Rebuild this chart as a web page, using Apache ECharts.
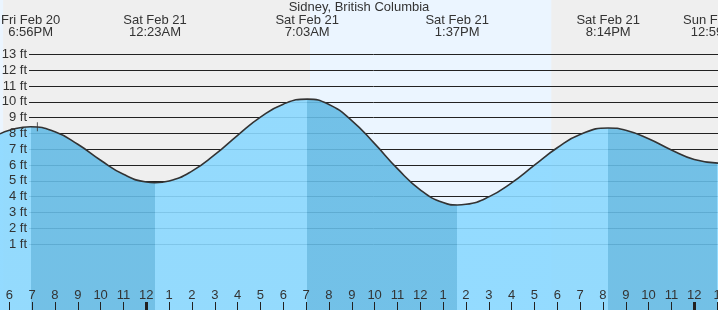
<!DOCTYPE html>
<html><head><meta charset="utf-8">
<script src="https://cdn.jsdelivr.net/npm/echarts@6/dist/echarts.min.js"></script>
<style>html,body{margin:0;padding:0;background:#efefef}#c{width:718px;height:310px}</style>
</head><body><div id="c"></div>
<script>
// ---- data (hours counted from 6PM Fri Feb 20) ----
const chartTitle = 'Sidney, British Columbia';
const hourLabels = ['6','7','8','9','10','11','12','1','2','3','4','5','6','7','8','9','10','11','12','1','2','3','4','5','6','7','8','9','10','11','12','1'];
const hourTicks = [0,1,2,3,4,5,6,7,8,9,10,11,12,13,14,15,16,17,18,19,20,21,22,23,24,25,26,27,28,29,30,31];
const midnightTicks = [6, 30];
const eventDates = ['Fri Feb 20','Sat Feb 21','Sat Feb 21','Sat Feb 21','Sat Feb 21','Sun Feb 22'];
const eventTimes = ['6:56PM','12:23AM','7:03AM','1:37PM','8:14PM','12:59AM'];
const eventHours = [0.933, 6.383, 13.05, 19.617, 26.233, 30.983];
const eventFeet = [8.42, 4.88, 10.17, 3.47, 8.34, 6.12];
const curveHours = [-0.41, 0, 0.933, 2, 3, 4, 5, 6, 6.383, 7, 8, 9, 10, 11, 12, 13.05, 14, 15, 16, 17, 18, 19, 19.617, 20, 21, 22, 23, 24, 25, 26.233, 27, 28, 29, 30, 31.05];
const curveFeet  = [7.97, 8.2, 8.42, 8.10, 7.31, 6.30, 5.41, 4.92, 4.88, 4.99, 5.61, 6.65, 7.88, 9.03, 9.85, 10.17, 9.83, 8.81, 7.35, 5.77, 4.43, 3.62, 3.47, 3.51, 3.98, 4.87, 5.99, 7.09, 7.93, 8.34, 8.20, 7.66, 6.95, 6.35, 6.12];
const feetTicks = [1,2,3,4,5,6,7,8,9,10,11,12,13];
const daylightStart = [-0.41, 13.17];
const daylightEnd = [-0.27, 23.74];
const nowMark = [1.23, 8.42];

// ---- styling / ranges ----
const X0 = -0.407, X1 = 31.04, Y0 = -3.177, Y1 = 16.44;
const FONT = '"Liberation Sans", Arial, sans-serif';
const LIGHT = 'rgb(138,216,255)', DARK = 'rgb(101,187,229)';

const pieces = [];
for (let i = 0; i <= eventHours.length; i++) {
  const p = {color: i % 2 === 0 ? LIGHT : DARK};
  if (i > 0) p.gte = eventHours[i - 1];
  if (i < eventHours.length) p.lt = eventHours[i];
  pieces.push(p);
}
function nearestEvent(v) {
  let b = 0;
  for (let i = 1; i < eventHours.length; i++) if (Math.abs(eventHours[i] - v) < Math.abs(eventHours[b] - v)) b = i;
  return b;
}
const G = {right: 0, top: 0, bottom: 0, containLabel: false, outerBoundsMode: 'none'};

const chart = echarts.init(document.getElementById('c'), null, {renderer: 'canvas'});
chart.setOption({
  backgroundColor: '#efefef',
  animation: false,
  title: {text: chartTitle, left: 'center', top: 0, padding: [1, 0, 0, 0],
    textStyle: {fontFamily: FONT, fontSize: 13, fontWeight: 'normal', color: '#333'}},
  grid: [
    Object.assign({left: 0}, G),
    Object.assign({left: 29}, G),
    Object.assign({left: 0}, G)
  ],
  xAxis: [
    {gridIndex: 0, type: 'value', min: X0, max: X1, position: 'bottom', z: 5,
      axisLine: {show: false, onZero: false}, splitLine: {show: false},
      axisTick: {show: true, inside: true, length: 8, customValues: hourTicks, lineStyle: {color: '#222', width: 1}},
      axisLabel: {show: true, inside: true, margin: 8, customValues: hourTicks, hideOverlap: false,
        formatter: v => hourLabels[Math.round(v)], color: '#333', fontSize: 13, fontFamily: FONT}},
    {gridIndex: 0, type: 'value', min: X0, max: X1, position: 'top', z: 5,
      axisLine: {show: false, onZero: false}, splitLine: {show: false}, axisTick: {show: false},
      axisLabel: {show: true, inside: true, margin: 14, customValues: eventHours, hideOverlap: false,
        formatter: v => { const i = nearestEvent(v); return eventDates[i] + '\n' + eventTimes[i]; },
        color: '#333', fontSize: 13, lineHeight: 12, fontFamily: FONT, align: 'center'}},
    {gridIndex: 1, type: 'value', min: X0, max: X1, show: false, axisLine: {onZero: false}},
    {gridIndex: 2, type: 'value', min: X0, max: X1, position: 'bottom', z: 5,
      axisLine: {show: false, onZero: false}, splitLine: {show: false}, axisLabel: {show: false},
      axisTick: {show: true, inside: true, length: 8, customValues: midnightTicks, lineStyle: {color: '#222', width: 3}}}
  ],
  yAxis: [
    {gridIndex: 0, type: 'value', min: Y0, max: Y1, show: false, axisLine: {onZero: false}},
    {gridIndex: 1, type: 'value', min: Y0, max: Y1, position: 'left', z: 5,
      axisLine: {show: false, onZero: false}, axisTick: {show: false, customValues: feetTicks}, splitLine: {show: false},
      axisLabel: {show: true, customValues: feetTicks, formatter: v => v + ' ft', margin: 2, color: '#333', fontSize: 13, fontFamily: FONT}},
    {gridIndex: 1, type: 'value', min: Y0, max: Y1, position: 'right', z: 1,
      axisLine: {show: false, onZero: false}, axisTick: {show: false, customValues: feetTicks}, axisLabel: {show: false},
      splitLine: {show: true, lineStyle: {color: '#222', width: 1}}},
    {gridIndex: 2, type: 'value', min: Y0, max: Y1, show: false, axisLine: {onZero: false}}
  ],
  visualMap: {type: 'piecewise', show: false, dimension: 0, seriesIndex: 1, pieces: pieces},
  series: [
    {type: 'line', xAxisIndex: 0, yAxisIndex: 0, data: [], silent: true, z: 0,
      markArea: {silent: true, z: 0, itemStyle: {color: '#ebf5ff'},
        data: daylightStart.map((s, i) => [{xAxis: s}, {xAxis: daylightEnd[i]}])}},
    {type: 'line', xAxisIndex: 0, yAxisIndex: 0, data: curveHours.map((h, i) => [h, curveFeet[i]]),
      smooth: 0.5, symbol: 'none', silent: true, z: 2,
      lineStyle: {color: '#333', width: 1.6}, areaStyle: {opacity: 0.9, origin: 'start'}},
    {type: 'scatter', xAxisIndex: 0, yAxisIndex: 0, data: [nowMark], symbol: 'rect', symbolSize: [1, 9],
      itemStyle: {color: '#333'}, silent: true, z: 4}
  ]
});
</script></body></html>
